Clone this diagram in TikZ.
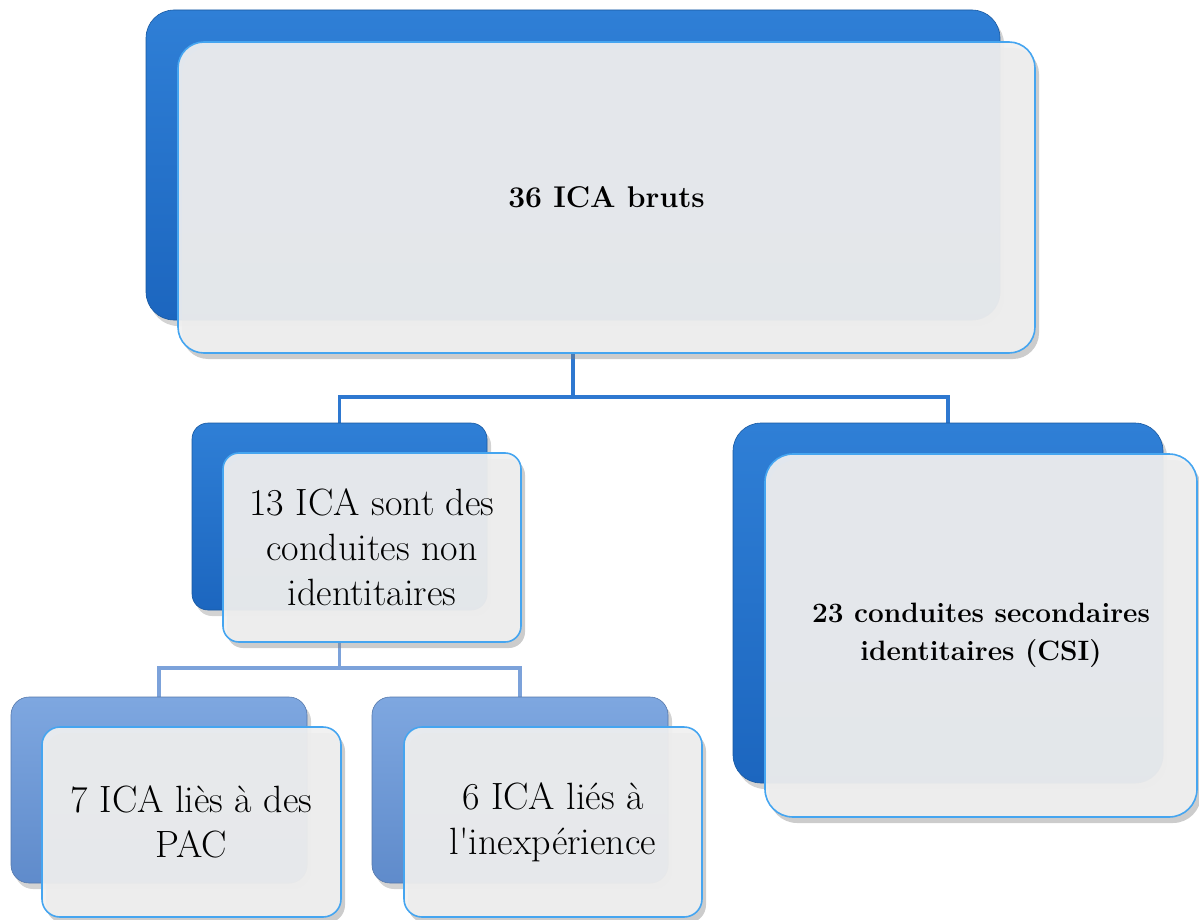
\documentclass[tikz,border=0pt]{standalone}
\usetikzlibrary{shadows,backgrounds}
\definecolor{bluedeep}{HTML}{1F6FC8}
\definecolor{bluedeeptop}{HTML}{2F7FD6}
\definecolor{bluedeepbot}{HTML}{1C66BF}
\definecolor{bluelight}{HTML}{6A96D6}
\definecolor{bluelighttop}{HTML}{7EA7E0}
\definecolor{bluelightbot}{HTML}{5F8BCB}
\definecolor{frontfill}{HTML}{F0F0F0}
\definecolor{frontedge}{HTML}{45A5F0}
\definecolor{conndeep}{HTML}{2E78D0}
\definecolor{connlight}{HTML}{7CA2DA}
\tikzset{
  backdeep/.style={rounded corners=22pt, top color=bluedeeptop, bottom color=bluedeepbot, draw=bluedeep!80!black, line width=0.6pt,
    drop shadow={shadow xshift=4pt, shadow yshift=-6pt, opacity=0.35}},
  backlight/.style={rounded corners=18pt, top color=bluelighttop, bottom color=bluelightbot, draw=bluelight!80!black, line width=0.6pt,
    drop shadow={shadow xshift=4pt, shadow yshift=-6pt, opacity=0.35}},
  frontbox/.style={rounded corners=22pt, fill=frontfill, fill opacity=0.93, text opacity=1, draw=frontedge, line width=1.6pt,
    drop shadow={shadow xshift=4pt, shadow yshift=-6pt, opacity=0.4}, align=center, inner sep=0pt},
  connA/.style={draw=conndeep, line width=3.6pt},
  connB/.style={draw=connlight, line width=3.6pt},
  bigtext/.style={font=\fontsize{38}{45}\selectfont},
  boldtext/.style={font=\fontsize{28}{38}\selectfont\bfseries},
}
\begin{document}
\begin{tikzpicture}[x=1pt,y=-1pt]
\useasboundingbox (0,0) rectangle (1199,920);
% top
\node[backdeep, rounded corners=28pt, minimum width=854pt, minimum height=310pt] (topback) at (573,165) {};
\node[frontbox, rounded corners=26pt, minimum width=857pt, minimum height=311pt] (top) at (606.5,197.5) {};
\node[boldtext, font=\fontsize{30}{38}\selectfont\bfseries] (toptext) at (top.center) {36 ICA bruts};
% mid left
\node[backdeep, rounded corners=16pt, minimum width=295pt, minimum height=187pt] (midback) at (339.5,516.5) {};
\node[frontbox, rounded corners=16pt, minimum width=298pt, minimum height=189pt] (mid) at (372,547.5) {};
\node[bigtext, align=center] (midtext) at (mid.center) {13 ICA sont des\\conduites non\\identitaires};
% right
\node[backdeep, rounded corners=28pt, minimum width=430pt, minimum height=360pt] (csiback) at (948,603) {};
\node[frontbox, rounded corners=28pt, minimum width=432pt, minimum height=363pt] (csi) at (981,635.5) {};
\node[boldtext, align=center] (csitext) at (csi.center) {23 conduites secondaires\\identitaires (CSI)};
% bottom left
\node[backlight, minimum width=296pt, minimum height=186pt] (pacback) at (159,790) {};
\node[frontbox, rounded corners=18pt, minimum width=299pt, minimum height=190pt] (pac) at (191.5,822) {};
\node[bigtext, align=center] (pactext) at (pac.center) {7 ICA liès à des\\PAC};
% bottom right
\node[backlight, minimum width=296pt, minimum height=186pt] (inexpback) at (520,790) {};
\node[frontbox, rounded corners=18pt, minimum width=298pt, minimum height=190pt] (inexp) at (553,822) {};
\node[bigtext, align=center] (inexptext) at (inexp.center) {6 ICA liés à\\l\textquotesingle inexpérience};
% connectors
\coordinate (j1) at (0,397);
\coordinate (j2) at (0,668);
\begin{scope}[on background layer]
\draw[connA] (topback.south |- top.south) -- (topback.south |- j1) -| (midback.north);
\draw[connA] (topback.south |- j1) -| (csiback.north);
\draw[connB] (midback.south |- mid.south) -- (midback.south |- j2) -| (pacback.north);
\draw[connB] (midback.south |- j2) -| (inexpback.north);
\end{scope}
\end{tikzpicture}
\end{document}
